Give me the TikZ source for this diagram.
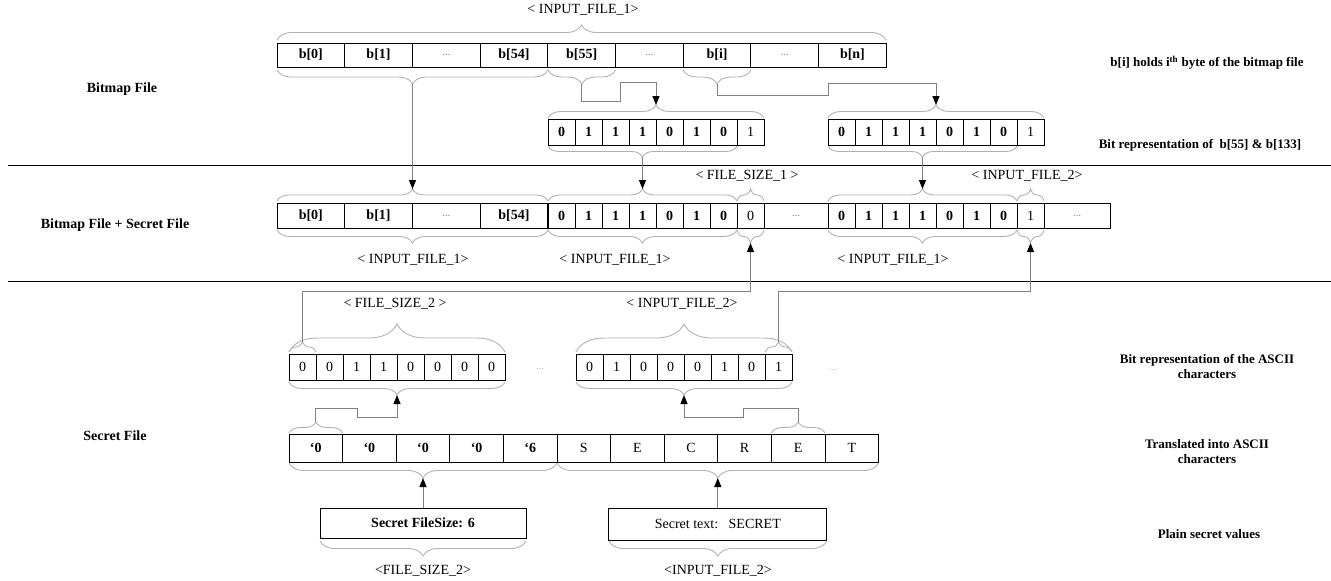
\documentclass[tikz,border=0pt]{standalone}
\usepackage{fontspec}
\setmainfont{Liberation Serif}
\usetikzlibrary{arrows.meta, decorations.pathreplacing}

\newcommand{\fsz}{\fontsize{14}{16}\selectfont}
\newcommand{\celldots}{{\fontsize{8}{8}\selectfont\color{gray}\dots}}

\tikzset{
  cell/.style={draw, line width=1pt, inner sep=0pt, font=\fsz\bfseries},
  cellr/.style={cell, font=\fsz},
  bytec/.style={cell, minimum width=67.7pt, minimum height=24pt},
  bitc/.style={cell, minimum width=27pt, minimum height=26pt},
  bitr/.style={bitc, font=\fsz},
  brc/.style={decorate, decoration={brace, amplitude=#1}, draw=gray!60, line width=0.9pt},
  brcd/.style={decorate, decoration={brace, mirror, amplitude=#1}, draw=gray!60, line width=0.9pt},
  link/.style={draw=gray, line width=1pt, -{Triangle[length=9pt, width=7pt, color=black]}},
  tag/.style={font=\fsz},
  side/.style={font=\fsz\bfseries, align=center},
  note/.style={font=\fontsize{13}{15}\selectfont\bfseries, align=center},
}

\begin{document}
\begin{tikzpicture}[x=1pt, y=-1pt]
  \useasboundingbox (0,0) rectangle (1331,581);
  \draw[line width=1pt] (8,165) -- (1331,165);
  \draw[line width=1pt] (8,281) -- (1331,281);

  \node[side] (s1) at (122,89) {Bitmap File};
  \node[side] (s2) at (115,225) {Bitmap File + Secret File};
  \node[side] (s3) at (115,436) {Secret File};
  \node[note] (n1) at (1207,63) {b[i] holds i\textsuperscript{th} byte of the bitmap file};
  \node[note] (n2) at (1200,145) {Bit representation of\ \ b[55] \& b[133]};
  \node[note] (n3) at (1207,366) {Bit representation of the ASCII\\characters};
  \node[note] (n4) at (1207,452) {Translated into ASCII\\characters};
  \node[note] (n5) at (1209,534) {Plain secret values};

  \foreach \t [count=\i from 0] in {b[0],b[1],\celldots,b[54],b[55],\celldots,b[i],\celldots,b[n]}
    \node[bytec] (a\i) at (310.85+67.7*\i,55) {\t};
  \draw[brc=15pt] (277,40) -- (886,40);
  \node[tag] (t0) at (583,10) {< INPUT\_FILE\_1>};
  \draw[brcd=14pt] (277,70) -- (548,70);
  \draw[brcd=14pt] (548,70) -- (615.6,70);
  \draw[brcd=14pt] (683,70) -- (751,70);
  \coordinate (aL) at (412.5,84);
  \coordinate (aM) at (581.8,84);
  \coordinate (aR) at (717,84);

  \foreach \t [count=\i from 0] in {0,1,1,1,0,1,0}
    \node[bitc] (p\i) at (561.5+27*\i,132) {\t};
  \node[bitr] (p7) at (750.5,132) {1};
  \draw[brc=13pt] (548,118) -- (764,118);
  \draw[brcd=11pt] (548,146) -- (737,146);
  \coordinate (pT) at (656,105);
  \coordinate (pB) at (642.5,157);

  \foreach \t [count=\i from 0] in {0,1,1,1,0,1,0}
    \node[bitc] (q\i) at (841.5+27*\i,132) {\t};
  \node[bitr] (q7) at (1030.5,132) {1};
  \draw[brc=13pt] (828,118) -- (1044,118);
  \draw[brcd=11pt] (828,146) -- (1017,146);
  \coordinate (qT) at (936,105);
  \coordinate (qB) at (922.5,157);

  \draw[link] (aM) |- (620,101) |- (656,82) -- (pT);
  \draw[link] (aR) |- (828,95) |- (936,83) -- (qT);

  \foreach \t [count=\i from 0] in {b[0],b[1],\celldots,b[54]}
    \node[bytec, minimum height=25pt] (c\i) at (310.85+67.7*\i,215.5) {\t};
  \foreach \t [count=\i from 0] in {0,1,1,1,0,1,0}
    \node[bitc, minimum height=25pt] (cp\i) at (561.5+27*\i,215.5) {\t};
  \node[bitr, minimum height=25pt] (cp7) at (750.5,215.5) {0};
  \node[cell, minimum width=64pt, minimum height=25pt] (cd1) at (796,215.5) {\celldots};
  \foreach \t [count=\i from 0] in {0,1,1,1,0,1,0}
    \node[bitc, minimum height=25pt] (cq\i) at (841.5+27*\i,215.5) {\t};
  \node[bitr, minimum height=25pt] (cq7) at (1030.5,215.5) {1};
  \node[cell, minimum width=66pt, minimum height=25pt] (cd2) at (1077,215.5) {\celldots};

  \draw[brc=12pt] (277,201) -- (548,201);
  \draw[brc=12pt] (548,201) -- (737,201);
  \draw[brc=12pt] (737,201) -- (764,201);
  \draw[brc=12pt] (828,201) -- (1017,201);
  \draw[brc=12pt] (1017,201) -- (1044,201);
  \draw[brcd=13pt] (277,230) -- (548,230);
  \draw[brcd=13pt] (548,230) -- (737,230);
  \draw[brcd=13pt] (737,230) -- (764,230);
  \draw[brcd=13pt] (828,230) -- (1017,230);
  \draw[brcd=13pt] (1017,230) -- (1044,230);
  \coordinate (cT1) at (412.5,189);
  \coordinate (cT2) at (642.5,189);
  \coordinate (cT4) at (922.5,189);
  \coordinate (cB3) at (750.5,243);
  \coordinate (cB5) at (1030.5,243);
  \node[tag] (t1) at (747,176) {< FILE\_SIZE\_1 >};
  \node[tag] (t2) at (1027,176) {< INPUT\_FILE\_2>};
  \node[tag] (t3) at (413,260) {< INPUT\_FILE\_1>};
  \node[tag] (t4) at (615,260) {< INPUT\_FILE\_1>};
  \node[tag] (t5) at (893,260) {< INPUT\_FILE\_1>};

  \draw[link] (aL) -- (cT1);
  \draw[link] (pB) -- (cT2);
  \draw[link] (qB) -- (cT4);

  \foreach \t [count=\i from 0] in {0,0,1,1,0,0,0,0}
    \node[bitr] (d\i) at (302.5+27*\i,367) {\t};
  \foreach \t [count=\i from 0] in {0,1,0,0,0,1,0,1}
    \node[bitr] (g\i) at (589.5+27*\i,367) {\t};
  \node (dd1) at (540,369) {\celldots};
  \node (dd2) at (833,370) {\celldots};
  \draw[brc=28pt] (289,352) -- (505,352);
  \draw[brc=10pt] (289,352) -- (316,352);
  \draw[brc=28pt] (576,352) -- (792,352);
  \draw[brc=10pt] (765,352) -- (792,352);
  \draw[brcd=13pt] (289,382) -- (505,382);
  \draw[brcd=13pt] (576,382) -- (792,382);
  \coordinate (dS1) at (302.5,342);
  \coordinate (dS2) at (778.5,342);
  \coordinate (dB1) at (397,395);
  \coordinate (dB2) at (684,395);
  \node[tag] (t6) at (395,304) {< FILE\_SIZE\_2 >};
  \node[tag] (t7) at (682,304) {< INPUT\_FILE\_2>};

  \draw[link] (dS1) |- (750.5,291) -- (cB3);
  \draw[link] (dS2) |- (1030.5,291) -- (cB5);

  \foreach \t [count=\i from 0] in {‘0,‘0,‘0,‘0,‘6}
    \node[cell, minimum width=53.6pt, minimum height=28pt] (h\i) at (315.8+53.6*\i,448) {\t};
  \foreach \t [count=\i from 5] in {S,E,C,R,E,T}
    \node[cellr, minimum width=53.6pt, minimum height=28pt] (h\i) at (315.8+53.6*\i,448) {\t};
  \draw[brc=11pt] (289,433) -- (342.6,433);
  \draw[brc=11pt] (771.4,433) -- (825,433);
  \draw[brcd=15pt] (289,463) -- (557,463);
  \draw[brcd=15pt] (557,463) -- (878.6,463);
  \coordinate (eS1) at (315.8,422);
  \coordinate (eS2) at (798.2,422);
  \coordinate (eB1) at (423,478);
  \coordinate (eB2) at (717.8,478);

  \draw[link] (eS1) |- (357,408) |- (397,417) -- (dB1);
  \draw[link] (eS2) |- (743,408) |- (684,417) -- (dB2);

  \node[cell, minimum width=206pt, minimum height=30pt] (f1) at (423,523) {Secret FileSize: 6};
  \node[cellr, minimum width=218pt, minimum height=32pt] (f2) at (717.8,524) {Secret text:\ \ \ SECRET};
  \draw[brcd=15pt] (320,541) -- (526,541);
  \draw[brcd=15pt] (608.8,541) -- (826.8,541);
  \node[tag] (t8) at (423,571) {<FILE\_SIZE\_2>};
  \node[tag] (t9) at (718,571) {<INPUT\_FILE\_2>};

  \draw[link] (f1) -- (eB1);
  \draw[link] (f2) -- (eB2);
\end{tikzpicture}
\end{document}
